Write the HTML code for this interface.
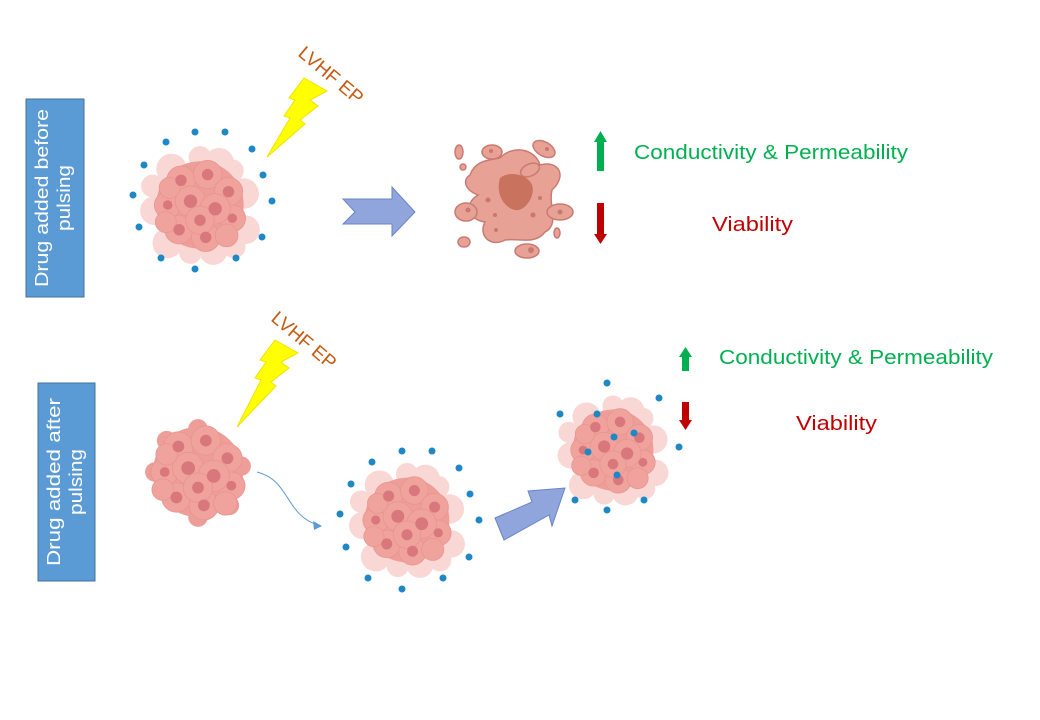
<!DOCTYPE html>
<html><head><meta charset="utf-8"><style>
html,body{margin:0;padding:0;background:#fff;}
svg{display:block;}
text{font-family:"Liberation Sans",sans-serif;}
</style></head><body>
<svg width="1040" height="720" viewBox="0 0 1040 720" xmlns="http://www.w3.org/2000/svg">
<defs>
<g id="core">
  <circle cx="0" cy="0" r="46" fill="#EE9E99"/>
  <g fill="#F0A29D" stroke="#E8938F" stroke-width="0.8">
    <circle cx="-20" cy="-26" r="15"/><circle cx="8" cy="-32" r="15"/><circle cx="30" cy="-14" r="15"/>
    <circle cx="-34" cy="0" r="14"/><circle cx="34" cy="14" r="14"/><circle cx="-22" cy="26" r="15"/>
    <circle cx="6" cy="34" r="15"/><circle cx="28" cy="32" r="12"/><circle cx="-10" cy="-4" r="16"/>
    <circle cx="16" cy="4" r="16"/><circle cx="0" cy="16" r="15"/><circle cx="-32" cy="-18" r="11"/><circle cx="-36" cy="18" r="11"/>
  </g>
  <g fill="#D9787C">
    <circle cx="-20" cy="-26" r="6"/><circle cx="8" cy="-32" r="6"/><circle cx="30" cy="-14" r="6"/>
    <circle cx="-34" cy="0" r="5"/><circle cx="34" cy="14" r="5"/><circle cx="-22" cy="26" r="6"/>
    <circle cx="6" cy="34" r="6"/><circle cx="-10" cy="-4" r="7"/><circle cx="16" cy="4" r="7"/><circle cx="0" cy="16" r="6"/>
  </g>
</g>
<g id="cluster">
  <g fill="#F8D3D1" opacity="0.9">
    <circle cx="-30" cy="-38" r="16"/><circle cx="20" cy="-44" r="16"/><circle cx="46" cy="-12" r="16"/>
    <circle cx="-48" cy="6" r="15"/><circle cx="48" cy="26" r="15"/><circle cx="-34" cy="40" r="16"/>
    <circle cx="14" cy="48" r="15"/><circle cx="-50" cy="-20" r="12"/><circle cx="36" cy="44" r="12"/>
    <circle cx="0" cy="-50" r="12"/><circle cx="-10" cy="50" r="12"/><circle cx="34" cy="-36" r="12"/>
  </g>
  <use href="#core"/>
</g>
</defs>

<!-- Boxes -->
<rect x="26" y="99" width="58" height="198" fill="#5B9BD5" stroke="#41719C" stroke-width="1"/>
<text transform="translate(48,198) rotate(-90)" text-anchor="middle" fill="#fff" font-size="18" textLength="178" lengthAdjust="spacingAndGlyphs">Drug added before</text>
<text transform="translate(70,198) rotate(-90)" text-anchor="middle" fill="#fff" font-size="18" textLength="66" lengthAdjust="spacingAndGlyphs">pulsing</text>

<rect x="38" y="383" width="57" height="198" fill="#5B9BD5" stroke="#41719C" stroke-width="1"/>
<text transform="translate(60,482) rotate(-90)" text-anchor="middle" fill="#fff" font-size="18" textLength="168" lengthAdjust="spacingAndGlyphs">Drug added after</text>
<text transform="translate(82,482) rotate(-90)" text-anchor="middle" fill="#fff" font-size="18" textLength="66" lengthAdjust="spacingAndGlyphs">pulsing</text>

<!-- Row 1 -->
<use href="#cluster" transform="translate(200,205) scale(0.95)"/>
<g fill="#1E88C5">
  <circle cx="166" cy="142" r="3.5"/><circle cx="195" cy="132" r="3.5"/><circle cx="225" cy="132" r="3.5"/>
  <circle cx="252" cy="149" r="3.5"/><circle cx="144" cy="165" r="3.5"/><circle cx="263" cy="175" r="3.5"/>
  <circle cx="133" cy="195" r="3.5"/><circle cx="272" cy="201" r="3.5"/><circle cx="139" cy="227" r="3.5"/>
  <circle cx="262" cy="237" r="3.5"/><circle cx="161" cy="258" r="3.5"/><circle cx="236" cy="258" r="3.5"/>
  <circle cx="195" cy="269" r="3.5"/>
</g>
<polygon points="304,78 327,91 310,100 318,106 300,120 305,124 267,157 290,118 284,116 295,100 289,98" fill="#FFFF00" stroke="#F2E200" stroke-width="1"/>
<text transform="translate(297,55) rotate(40)" fill="#C55A11" font-size="19" textLength="78" lengthAdjust="spacingAndGlyphs">LVHF EP</text>

<polygon points="343,199 392,199 392,187 415,212 392,236 392,224 343,224 355,212" fill="#8FA5DC" stroke="#6A85C8" stroke-width="1"/>

<!-- burst cell -->
<g fill="#E8A195" stroke="#C97B72" stroke-width="1.5">
  <path d="M470,175 C475,160 490,160 500,158 C512,145 535,148 540,165 C558,160 568,175 552,190 C548,205 560,225 545,232 C535,245 520,238 505,240 C490,248 478,235 485,222 C470,220 462,205 478,195 C465,190 462,180 470,175 Z"/>
  <ellipse cx="466" cy="212" rx="11" ry="9"/><ellipse cx="530" cy="170" rx="10" ry="6" transform="rotate(-25 530 170)"/>
  <ellipse cx="492" cy="152" rx="10" ry="7"/><ellipse cx="544" cy="149" rx="12" ry="7" transform="rotate(30 544 149)"/>
  <ellipse cx="560" cy="212" rx="13" ry="8"/><ellipse cx="464" cy="242" rx="6" ry="5"/>
  <ellipse cx="527" cy="251" rx="12" ry="7"/><ellipse cx="459" cy="152" rx="4" ry="7"/>
  <ellipse cx="557" cy="233" rx="3" ry="5"/><ellipse cx="463" cy="167" rx="3" ry="3"/>
</g>
<path d="M500,178 C510,170 528,175 532,185 C536,195 525,212 515,210 C505,208 495,195 500,178 Z" fill="#C9725E"/>
<g fill="#C9786E"><circle cx="488" cy="200" r="2.5"/><circle cx="495" cy="215" r="2"/><circle cx="533" cy="215" r="2.5"/><circle cx="540" cy="198" r="2"/><circle cx="468" cy="210" r="2.5"/><circle cx="560" cy="212" r="2.5"/><circle cx="531" cy="250" r="3"/><circle cx="496" cy="230" r="2"/><circle cx="491" cy="151" r="2"/><circle cx="547" cy="149" r="2"/></g>

<rect x="597" y="141" width="7" height="30" fill="#00B050"/><polygon points="594,142 607,142 600.5,131" fill="#00B050"/>
<rect x="597" y="203" width="7" height="32" fill="#C00000"/><polygon points="594,234 607,234 600.5,244" fill="#C00000"/>
<text x="634" y="159" fill="#00B050" font-size="20" textLength="274" lengthAdjust="spacingAndGlyphs">Conductivity &amp; Permeability</text>
<text x="712" y="231" fill="#C00000" font-size="20" textLength="81" lengthAdjust="spacingAndGlyphs">Viability</text>

<!-- Row 2 -->
<g transform="translate(198,472) scale(0.98)"><circle cx="-44" cy="0" r="10" fill="#EE9E99"/><circle cx="44" cy="-6" r="10" fill="#EE9E99"/><circle cx="0" cy="-44" r="10" fill="#EE9E99"/><circle cx="0" cy="46" r="10" fill="#EE9E99"/><circle cx="-32" cy="-32" r="10" fill="#EE9E99"/><circle cx="32" cy="34" r="10" fill="#EE9E99"/><use href="#core"/></g>
<polygon points="275,340 298,353 281,362 289,368 271,382 276,386 237,427 261,380 255,378 266,362 260,360" fill="#FFFF00" stroke="#F2E200" stroke-width="1"/>
<text transform="translate(270,320) rotate(40)" fill="#C55A11" font-size="19" textLength="78" lengthAdjust="spacingAndGlyphs">LVHF EP</text>
<path d="M257,472 C290,480 285,515 318,525" fill="none" stroke="#5B9BD5" stroke-width="1"/>
<polygon points="322,526 313,521 314,530" fill="#5B9BD5"/>

<use href="#cluster" transform="translate(407,520) scale(0.92)"/>
<g fill="#1E88C5">
  <circle cx="372" cy="462" r="3.5"/><circle cx="402" cy="451" r="3.5"/><circle cx="432" cy="451" r="3.5"/>
  <circle cx="459" cy="468" r="3.5"/><circle cx="351" cy="484" r="3.5"/><circle cx="470" cy="494" r="3.5"/>
  <circle cx="340" cy="514" r="3.5"/><circle cx="479" cy="520" r="3.5"/><circle cx="346" cy="547" r="3.5"/>
  <circle cx="469" cy="557" r="3.5"/><circle cx="368" cy="578" r="3.5"/><circle cx="443" cy="578" r="3.5"/>
  <circle cx="402" cy="589" r="3.5"/>
</g>

<polygon points="495,518 532,502 528,491 565,488 552,526 549,515 504,540" fill="#8FA5DC" stroke="#6A85C8" stroke-width="1"/>

<use href="#cluster" transform="translate(613,450) scale(0.88)"/>
<g fill="#1E88C5">
  <circle cx="607" cy="383" r="3.5"/><circle cx="659" cy="398" r="3.5"/><circle cx="560" cy="414" r="3.5"/>
  <circle cx="597" cy="414" r="3.5"/><circle cx="614" cy="437" r="3.5"/><circle cx="634" cy="433" r="3.5"/>
  <circle cx="588" cy="452" r="3.5"/><circle cx="617" cy="475" r="3.5"/><circle cx="679" cy="447" r="3.5"/>
  <circle cx="575" cy="500" r="3.5"/><circle cx="607" cy="510" r="3.5"/><circle cx="644" cy="500" r="3.5"/>
</g>

<rect x="682" y="356" width="7" height="15" fill="#00B050"/><polygon points="679,357 692,357 685.5,347" fill="#00B050"/>
<rect x="682" y="402" width="7" height="19" fill="#C00000"/><polygon points="679,420 692,420 685.5,430" fill="#C00000"/>
<text x="719" y="364" fill="#00B050" font-size="20" textLength="274" lengthAdjust="spacingAndGlyphs">Conductivity &amp; Permeability</text>
<text x="796" y="430" fill="#C00000" font-size="20" textLength="81" lengthAdjust="spacingAndGlyphs">Viability</text>
</svg>
</body></html>
